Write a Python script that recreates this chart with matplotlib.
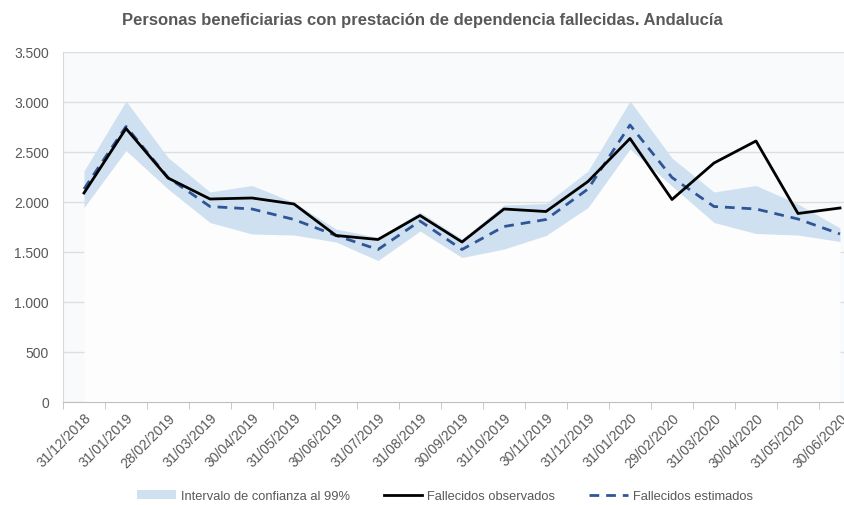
import matplotlib
matplotlib.use("Agg")
import matplotlib.pyplot as plt
from matplotlib.ticker import FuncFormatter, MultipleLocator, FixedLocator
from matplotlib.lines import Line2D
from matplotlib.patches import Patch
import numpy as np

fechas = ["31/12/2018", "31/01/2019", "28/02/2019", "31/03/2019", "30/04/2019",
          "31/05/2019", "30/06/2019", "31/07/2019", "31/08/2019", "30/09/2019",
          "31/10/2019", "30/11/2019", "31/12/2019", "31/01/2020", "29/02/2020",
          "31/03/2020", "30/04/2020", "31/05/2020", "30/06/2020"]
observados = [2090, 2735, 2240, 2030, 2040, 1980, 1665, 1625, 1865, 1600,
              1930, 1905, 2205, 2635, 2025, 2390, 2610, 1885, 1940]
estimados = [2130, 2755, 2245, 1955, 1930, 1825, 1665, 1525, 1810, 1525,
             1755, 1825, 2130, 2770, 2245, 1955, 1930, 1830, 1680]
ic_superior = [2310, 3010, 2445, 2100, 2165, 1995, 1730, 1645, 1900, 1630,
               1970, 1985, 2310, 3010, 2440, 2100, 2165, 1980, 1740]
ic_inferior = [1945, 2515, 2130, 1795, 1680, 1670, 1600, 1415, 1710, 1445,
               1530, 1665, 1945, 2530, 2160, 1795, 1685, 1670, 1605]

plt.rcParams['font.family'] = ['Liberation Sans', 'DejaVu Sans']
txt = '#595959'

fig = plt.figure(figsize=(8.45, 5.06), dpi=100)
ax = fig.add_axes([63/845, 1 - 403/506, (861 - 63)/845, 350/506])
ax.set_facecolor('#f9fafc')

x = np.arange(len(fechas))
ax.fill_between(x, 0, ic_inferior, color='#fdfdfe', lw=0, zorder=1)
ax.fill_between(x, ic_inferior, ic_superior, color='#cfe1f1', lw=0, zorder=2)
ax.plot(x, observados, color='black', lw=2, zorder=4)
ax.plot(x, estimados, color='#2f5597', lw=2, dashes=(3.5, 2.5), zorder=3)

ax.set_xlim(-0.5, len(fechas) - 0.5)
ax.set_ylim(0, 3500)
ax.yaxis.set_major_locator(MultipleLocator(500))
ax.yaxis.set_major_formatter(FuncFormatter(lambda v, p: f"{int(v):,}".replace(",", ".")))
ax.grid(axis='y', color='#dedede', lw=1, zorder=0)
ax.set_axisbelow(True)

ax.set_xticks(x)
ax.set_xticklabels(fechas, rotation=45, ha='right', rotation_mode='anchor',
                   fontsize=10, color=txt)
ax.tick_params(axis='x', which='major', length=0, pad=6)
ax.xaxis.set_minor_locator(FixedLocator(np.arange(-0.5, len(fechas), 1)))
ax.tick_params(axis='x', which='minor', length=5, color='#bfbfbf')
ax.tick_params(axis='y', length=0, labelsize=10, labelcolor=txt, pad=10)

for s in ['top', 'right']:
    ax.spines[s].set_visible(False)
ax.spines['left'].set_color('#d9d9d9')
ax.spines['bottom'].set_color('#bfbfbf')

fig.text(0.5, 1 - 20/506, "Personas beneficiarias con prestación de dependencia fallecidas. Andalucía",
         ha='center', va='center', fontsize=12, fontweight='bold', color=txt)

handles = [Patch(facecolor='#cfe1f1', edgecolor='none'),
           Line2D([0], [0], color='black', lw=2),
           Line2D([0], [0], color='#2f5597', lw=2, dashes=(3.5, 2.5))]
labels = ["Intervalo de confianza al 99%", "Fallecidos observados", "Fallecidos estimados"]
fig.legend(handles, labels, loc='center', bbox_to_anchor=(445/845, 1 - 497/506),
           ncol=3, frameon=False, fontsize=9.3, labelcolor=txt,
           handlelength=3, columnspacing=2.6, handletextpad=0.4)

fig.savefig('out.png', dpi=100, facecolor='white')
